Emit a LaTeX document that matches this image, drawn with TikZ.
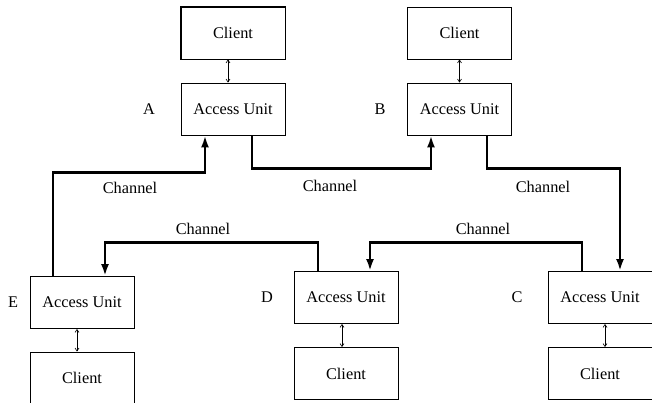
\documentclass[tikz,border=0pt]{standalone}
\usepackage{fontspec}
\setmainfont{Liberation Serif}
\usetikzlibrary{arrows.meta}

\begin{document}
\begin{tikzpicture}[x=1pt, y=-1pt,
    font=\fontsize{16.3}{19}\selectfont,
    unit/.style={draw, line width=0.9pt, minimum width=104pt, minimum height=52pt, inner sep=0pt},
    chan/.style={line width=2.6pt, -{Latex[length=12pt,width=8pt]}},
    link/.style={line width=0.6pt, {Straight Barb[length=3pt,width=4pt]}-{Straight Barb[length=3pt,width=4pt]}}]
\useasboundingbox (0,0) rectangle (652,403);
\clip (0,0) rectangle (652,403);
% Access units, clients and letters
\foreach \n/\lab/\x/\y/\cy/\lx/\dx/\ca/\aa in {a/A/233/109/33/149/-5/south/north, b/B/459.5/109/33/380/0/south/north, e/E/82/302.5/378/13/-5/north/south, d/D/346/297.5/373.5/267/-4/north/south, c/C/600/297.5/373.5/517/5/north/south} {
    \node[unit] (au\n) at (\x,\y) {Access Unit};
    \node[unit] (cl\n) at (\x,\cy) {Client};
    \node (lab\n) at (\lx,\y) {\lab};
    \draw[link] ([xshift=\dx pt]cl\n.\ca) -- ([xshift=\dx pt]au\n.\aa);
}
\draw[line width=1.6pt] (cla.south west) rectangle (cla.north east);
% Channels
\draw[chan] ([xshift=-29pt]aue.north) -- ++(0,-103.5) -| ([xshift=-28pt]aua.south);
\draw[chan] ([xshift=19pt]aua.south) -- ++(0,33) -| ([xshift=-28.5pt]aub.south);
\draw[chan] ([xshift=27.5pt]aub.south) -- ++(0,33) -| ([xshift=20pt]auc.north);
\draw[chan] ([xshift=-28pt]aud.north) -- ++(0,-28.5) -| ([xshift=23pt]aue.north);
\draw[chan] ([xshift=-18pt]auc.north) -- ++(0,-28.5) -| ([xshift=24pt]aud.north);
% Channel labels
\foreach \i/\x/\y in {1/130/188, 2/330/186, 3/543/187, 4/203/229, 5/483/229} {
    \node (ch\i) at (\x,\y) {Channel};
}
\end{tikzpicture}
\end{document}
